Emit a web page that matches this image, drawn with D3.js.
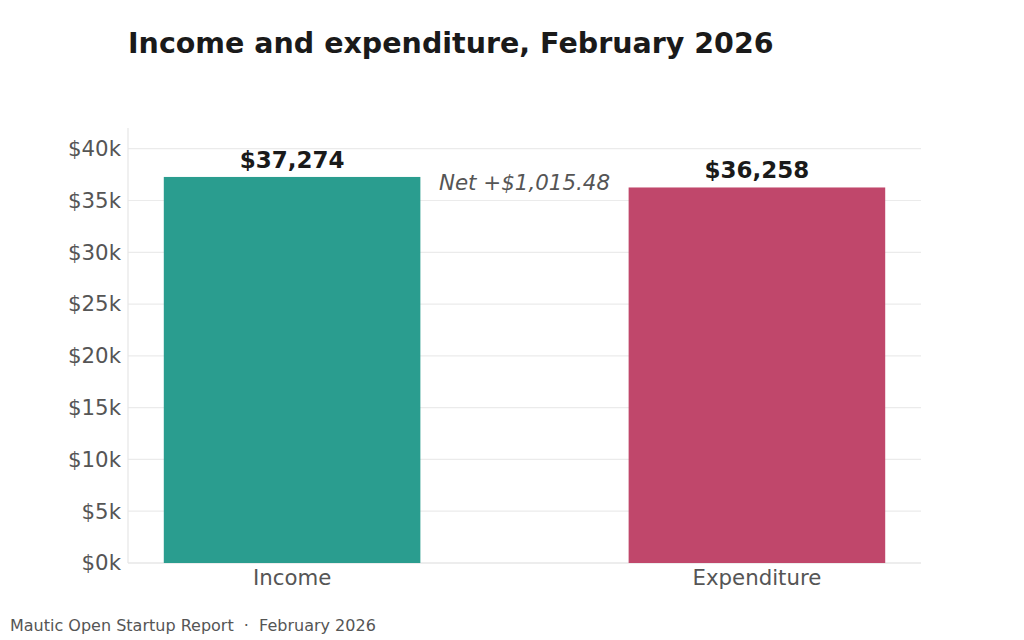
<!DOCTYPE html>
<html>
<head>
<meta charset="utf-8">
<script src="https://d3js.org/d3.v7.min.js"></script>
<style>
  body { margin: 0; background: #fff; }
  svg text { font-family: "DejaVu Sans", sans-serif; }
</style>
</head>
<body>
<svg width="1024" height="640"></svg>
<script>
// chart data
const categories = ['Income', 'Expenditure'];
const amounts = [37274, 36258];
const netLabel = 'Net +$1,015.48';
const yTicks = [0, 5000, 10000, 15000, 20000, 25000, 30000, 35000, 40000];
const barColors = ['#2a9d8f', '#c0476b'];

const svg = d3.select('svg');
const plotL = 128, plotR = 921, plotT = 128, plotB = 563;

const x = d3.scaleBand().domain(categories).range([plotL, plotR])
  .paddingInner(0.448).paddingOuter(0.077);
const y = d3.scaleLinear().domain([0, 42000]).range([plotB, plotT]);

// grid
svg.append('g').selectAll('line').data(yTicks).enter().append('line')
  .attr('x1', plotL).attr('x2', plotR)
  .attr('y1', d => y(d)).attr('y2', d => y(d))
  .attr('stroke', '#ebebeb').attr('stroke-width', 1.2);

// spines
svg.append('line').attr('x1', plotL).attr('x2', plotL).attr('y1', plotT).attr('y2', plotB)
  .attr('stroke', '#e6e6e6').attr('stroke-width', 1.2);
svg.append('line').attr('x1', plotL).attr('x2', plotR).attr('y1', plotB).attr('y2', plotB)
  .attr('stroke', '#e6e6e6').attr('stroke-width', 1.2);

// y axis
const yAxis = svg.append('g').attr('transform', `translate(${plotL},0)`)
  .call(d3.axisLeft(y).tickValues(yTicks).tickSize(0).tickPadding(7)
    .tickFormat(d => '$' + (d / 1000) + 'k'));
yAxis.select('.domain').remove();
yAxis.selectAll('text').attr('fill', '#555').style('font-size', '21.3px');

// x axis
const xAxis = svg.append('g').attr('transform', `translate(0,${plotB})`)
  .call(d3.axisBottom(x).tickSize(0).tickPadding(7));
xAxis.select('.domain').remove();
xAxis.selectAll('text').attr('fill', '#555').style('font-size', '21.3px');

// bars
svg.append('g').selectAll('rect').data(amounts).enter().append('rect')
  .attr('x', (d, i) => x(categories[i]))
  .attr('width', x.bandwidth())
  .attr('y', d => y(d))
  .attr('height', d => y(0) - y(d))
  .attr('fill', (d, i) => barColors[i]);

// value labels
svg.append('g').selectAll('text').data(amounts).enter().append('text')
  .attr('x', (d, i) => x(categories[i]) + x.bandwidth() / 2)
  .attr('y', d => y(d) - 9)
  .attr('text-anchor', 'middle')
  .attr('fill', '#1a1a1a')
  .style('font-size', '23px').style('font-weight', 'bold')
  .text(d => '$' + d3.format(',')(d));

// net label
svg.append('text')
  .attr('x', (x(categories[0]) + x(categories[1]) + x.bandwidth()) / 2)
  .attr('y', y(d3.mean(amounts)))
  .attr('dy', '0.35em')
  .attr('text-anchor', 'middle')
  .attr('fill', '#555')
  .style('font-size', '21.4px').style('font-style', 'italic')
  .text(netLabel);

// title
svg.append('text').attr('x', 128).attr('y', 53)
  .attr('fill', '#1a1a1a')
  .style('font-size', '28.5px').style('font-weight', 'bold')
  .text('Income and expenditure, February 2026');

// footer
svg.append('text').attr('x', 10).attr('y', 631)
  .attr('fill', '#555')
  .style('font-size', '16px').style('white-space', 'pre')
  .text('Mautic Open Startup Report  ·  February 2026');
</script>
</body>
</html>
